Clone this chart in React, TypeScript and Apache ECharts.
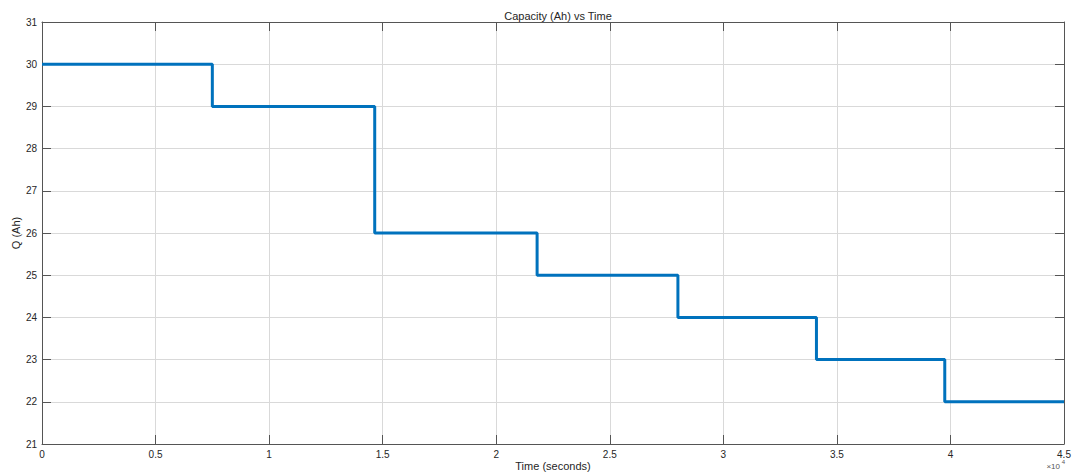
import React, { useEffect, useRef } from "react";
import * as echarts from "echarts";

const stepTimes = [0, 7500, 14650, 21800, 28000, 34100, 39750, 45000];
const capacities = [30, 29, 26, 25, 24, 23, 22, 22];
const xTickStep = 5000;
const yTickStep = 1;

const FONT = "Liberation Sans, Arial, Helvetica, sans-serif";
const TEXT = "#262626";
const AXIS = "#555555";
const GRID = "#d9d9d9";

export default function App() {
  const ref = useRef<HTMLDivElement>(null);
  useEffect(() => {
    document.body.style.margin = "0";
    const chart = echarts.init(ref.current!, undefined, { renderer: "svg" });
    const data = stepTimes.map((t, i) => [t, capacities[i]]);
    const baseAxisLine = { show: true, onZero: false, lineStyle: { color: AXIS, width: 1 } };
    const tick = { show: true, inside: true, length: 9, lineStyle: { color: AXIS } };
    chart.setOption({
      animation: false,
      backgroundColor: "#ffffff",
      textStyle: { fontFamily: FONT },
      title: {
        text: "Capacity (Ah) vs Time",
        left: 553,
        textAlign: "center",
        top: 5,
        textStyle: { fontSize: 11, fontWeight: "normal", color: TEXT, fontFamily: FONT },
      },
      grid: { left: 42, right: 8, top: 22, bottom: 30, containLabel: false, outerBoundsMode: "none" },
      xAxis: [
        {
          type: "value",
          min: 0,
          max: 45000,
          interval: xTickStep,
          position: "bottom",
          name: "Time (seconds)",
          nameLocation: "middle",
          nameGap: 16,
          nameMoveOverlap: false,
          nameTextStyle: { fontSize: 11, color: TEXT, fontFamily: FONT },
          axisLine: baseAxisLine,
          axisTick: tick,
          axisLabel: {
            color: TEXT,
            fontSize: 10,
            margin: 5,
            fontFamily: FONT,
            formatter: (v: number) => String(v / 10000),
          },
          splitLine: { show: true, lineStyle: { color: GRID, width: 1 } },
        },
        {
          type: "value",
          min: 0,
          max: 45000,
          interval: xTickStep,
          position: "top",
          axisLine: baseAxisLine,
          axisTick: tick,
          axisLabel: { show: false },
          splitLine: { show: false },
        },
      ],
      yAxis: [
        {
          type: "value",
          min: 21,
          max: 31,
          interval: yTickStep,
          position: "left",
          name: "Q (Ah)",
          nameLocation: "middle",
          nameGap: 21,
          nameMoveOverlap: false,
          nameRotate: 90,
          nameTextStyle: { fontSize: 11, color: TEXT, fontFamily: FONT },
          axisLine: baseAxisLine,
          axisTick: tick,
          axisLabel: { color: TEXT, fontSize: 10, margin: 5, fontFamily: FONT },
          splitLine: { show: true, lineStyle: { color: GRID, width: 1 } },
        },
        {
          type: "value",
          min: 21,
          max: 31,
          interval: yTickStep,
          position: "right",
          axisLine: baseAxisLine,
          axisTick: tick,
          axisLabel: { show: false },
          splitLine: { show: false },
        },
      ],
      graphic: [
        {
          type: "text",
          right: 12,
          top: 462,
          style: { text: "×10", fontSize: 8, fill: "#555555", fontFamily: FONT },
        },
        {
          type: "text",
          right: 7,
          top: 459,
          style: { text: "4", fontSize: 6, fill: "#555555", fontFamily: FONT },
        },
      ],
      series: [
        {
          type: "line",
          xAxisIndex: 0,
          yAxisIndex: 0,
          step: "end",
          data,
          showSymbol: false,
          symbol: "none",
          lineStyle: { color: "#0072BD", width: 3 },
          clip: true,
        },
      ],
    });
    return () => chart.dispose();
  }, []);
  return <div ref={ref} style={{ width: 1072, height: 474 }} />;
}
